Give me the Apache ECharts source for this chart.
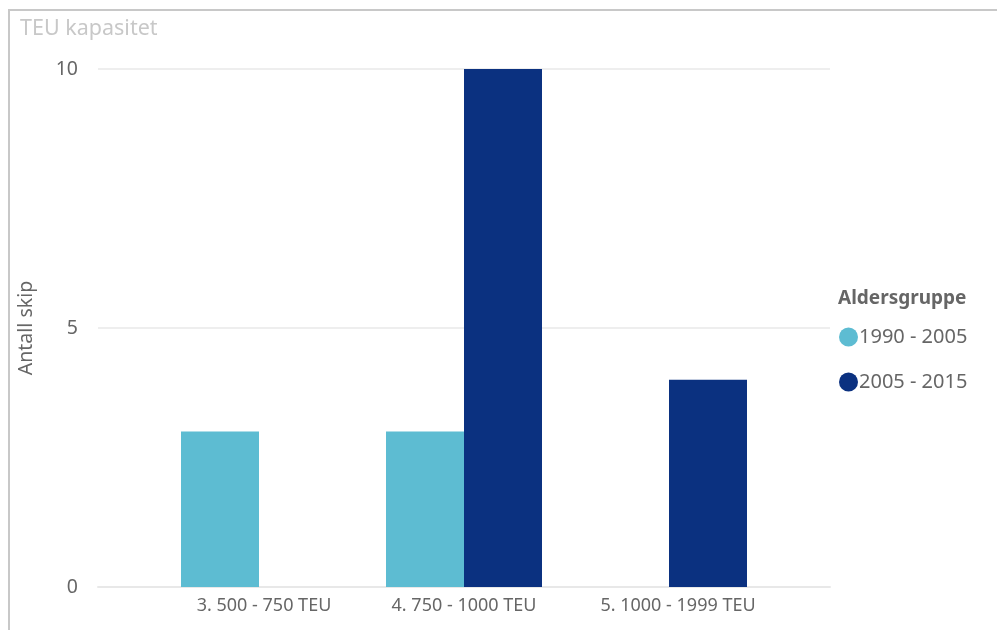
<!DOCTYPE html>
<html>
<head>
<meta charset="utf-8">
<script src="https://cdn.jsdelivr.net/npm/echarts@6/dist/echarts.min.js"></script>
<style>
  html, body { margin: 0; padding: 0; background: #fff; }
  #chart { width: 997px; height: 630px; }
</style>
</head>
<body>
<div id="chart"></div>
<script>
// data
var categories = ["3. 500 - 750 TEU", "4. 750 - 1000 TEU", "5. 1000 - 1999 TEU"];
var seriesNames = ["1990 - 2005", "2005 - 2015"];
var values1990 = [3, 3, null];
var values2005 = [null, 10, 4];
var yTicks = [0, 5, 10];

var colors = ["#5dbcd2", "#0b3180"];
var font = "'Segoe UI', 'Noto Sans', sans-serif";

// Power BI puts a bar in the middle when the other group is empty,
// so split each group into "alone" and "paired" parts
function alone(a, b) {
  return a.map(function (v, i) { return b[i] == null ? v : null; });
}
function paired(a, b) {
  return a.map(function (v, i) { return b[i] == null ? null : v; });
}

// the category labels in the original are not centred under the bars
var labelPad = [[0, 0, 0, 88], [0, 0, 0, 0], [0, 60, 0, 0]];
var labelRich = {};
labelPad.forEach(function (p, i) {
  labelRich["c" + i] = { padding: p, fontSize: 18, color: "#666", fontFamily: font };
});

var chart = echarts.init(document.getElementById("chart"));

var option = {
  animation: false,
  textStyle: { fontFamily: font },
  title: [
    {
      text: "TEU kapasitet",
      left: 15, top: 13,
      textStyle: { fontSize: 21.5, fontWeight: "normal", color: "#c8c8c8", fontFamily: font }
    },
    {
      text: "Aldersgruppe",
      left: 833, top: 284,
      textStyle: { fontSize: 19, fontWeight: "bold", color: "#666", fontFamily: font }
    }
  ],
  graphic: [
    {
      type: "rect",
      shape: { x: 9, y: 10, width: 1000, height: 640 },
      style: { fill: "none", stroke: "#c8c8c8", lineWidth: 2 },
      silent: true
    }
  ],
  legend: {
    orient: "vertical",
    left: 834, top: 322,
    icon: "circle",
    itemWidth: 19, itemHeight: 19,
    itemGap: 25,
    data: seriesNames,
    textStyle: { fontSize: 20, color: "#666", fontFamily: font, padding: [0, 0, 0, -4] }
  },
  grid: {
    left: 98, right: 167, top: 69, bottom: 43,
    outerBoundsMode: "none",
    containLabel: false
  },
  xAxis: [
    {
      type: "category",
      data: categories,
      axisLine: { show: true, lineStyle: { color: "#e8e8e8", width: 2 } },
      axisTick: { show: false },
      axisLabel: {
        interval: 0,
        hideOverlap: false,
        fontSize: 18, color: "#666", margin: 10, fontFamily: font,
        formatter: function (v, i) { return "{c" + i + "|" + v + "}"; },
        rich: labelRich
      }
    },
    {
      type: "category",
      data: categories,
      show: false
    }
  ],
  yAxis: {
    type: "value",
    min: yTicks[0], max: yTicks[yTicks.length - 1], interval: 5,
    name: "Antall skip",
    nameLocation: "middle",
    nameGap: 62,
    nameTextStyle: { fontSize: 19.5, color: "#666", fontFamily: font },
    axisLine: { show: false },
    axisTick: { show: false },
    axisLabel: { fontSize: 19.5, color: "#666", margin: 20, fontFamily: font },
    splitLine: { lineStyle: { color: "#e8e8e8", width: 1.5 } }
  },
  series: [
    {
      name: seriesNames[0], type: "bar", xAxisIndex: 0, stack: "alone",
      barWidth: 78, itemStyle: { color: colors[0] },
      data: alone(values1990, values2005)
    },
    {
      name: seriesNames[1], type: "bar", xAxisIndex: 0, stack: "alone",
      barWidth: 78, itemStyle: { color: colors[1] },
      data: alone(values2005, values1990)
    },
    {
      name: seriesNames[0], type: "bar", xAxisIndex: 1,
      barWidth: 78, barGap: "0%", itemStyle: { color: colors[0] },
      data: paired(values1990, values2005)
    },
    {
      name: seriesNames[1], type: "bar", xAxisIndex: 1,
      barWidth: 78, barGap: "0%", itemStyle: { color: colors[1] },
      data: paired(values2005, values1990)
    }
  ]
};

chart.setOption(option);
</script>
</body>
</html>
